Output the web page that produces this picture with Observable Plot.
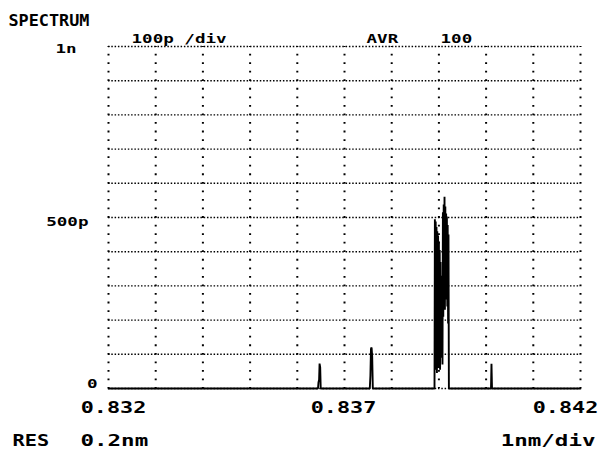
<!DOCTYPE html>
<html><head><meta charset="utf-8">
<script src="https://cdn.jsdelivr.net/npm/d3@7"></script>
<script src="https://cdn.jsdelivr.net/npm/@observablehq/plot@0.6"></script>
<style>body{margin:0;background:#fff;} svg{display:block;}</style>
</head><body><div id="chart"></div>
<script>
// Optical spectrum trace: wavelength (µm) and power (pW)
const wavelength = [
  0.832000,
  0.836439, 0.836449, 0.836462, 0.836472, 0.836485, 0.836496,
  0.837536, 0.837549, 0.837561, 0.837574, 0.837587, 0.837600,
  0.838907, 0.838915, 0.838924, 0.838932, 0.838941, 0.838949, 0.838958, 0.838966,
  0.838975, 0.838983, 0.838992, 0.839000, 0.839008, 0.839017, 0.839025, 0.839034,
  0.839042, 0.839051, 0.839059, 0.839068, 0.839076, 0.839085, 0.839093, 0.839102,
  0.839110, 0.839119, 0.839127, 0.839136, 0.839144, 0.839153, 0.839161, 0.839169,
  0.839178, 0.839186, 0.839195, 0.839203, 0.839212,
  0.840104, 0.840114, 0.840125,
  0.842000
];
const power = [
  0,
  0, 18, 26, 73, 62, 0,
  0, 38, 116, 120, 92, 0,
  0, 495, 55, 488, 70, 472, 45, 460,
  85, 447, 60, 430, 100, 405, 55, 370,
  140, 216, 90, 330, 70, 515, 210, 538,
  240, 561, 230, 532, 260, 512, 290, 503,
  240, 478, 190, 450, 0,
  0, 72, 0,
  0
];
const xGrid = [0.832, 0.833, 0.834, 0.835, 0.836, 0.837, 0.838, 0.839, 0.840, 0.841, 0.842];
const yGrid = [0, 100, 200, 300, 400, 500, 600, 700, 800, 900, 1000];
const xTicks = [0.832, 0.837, 0.842];
const xTickLabels = ["0.832", "0.837", "0.842"];
const yTicks = [1000, 500, 0];
const yTickLabels = ["1n", "500p", "0"];
const title = "SPECTRUM";
const scaleNote = "100p /div";
const avrLabel = "AVR";
const avrValue = "100";
const resLabel = "RES";
const resValue = "0.2nm";
const xUnitNote = "1nm/div";

const trace = wavelength.map((w, i) => ({w, p: power[i]}));
const xt = xTicks.map((v, i) => ({v, label: xTickLabels[i]}));
const yt = yTicks.map((v, i) => ({v, label: yTickLabels[i]}));

const F = "DejaVu Sans Mono";
const base = {fontFamily: F, fontWeight: "bold", fill: "black", lineAnchor: "bottom"};
const txt = (s, o) => Plot.text([s], {text: d => d, ...base, ...o});
const xLab = (i, dx) => Plot.text([xt[i]], {x: "v", text: "label", frameAnchor: "bottom", dy: 24, dx, fontSize: 15, ...base});
const yLab = (i, dx, dy) => Plot.text([yt[i]], {y: "v", text: "label", frameAnchor: "left", dx, dy, textAnchor: "end", fontSize: 13, ...base});

const chart = Plot.plot({
  width: 606, height: 452,
  marginLeft: 108, marginRight: 26, marginTop: 46, marginBottom: 64,
  x: {domain: [0.832, 0.842], axis: null},
  y: {domain: [0, 1000], axis: null},
  style: {background: "white", fontFamily: F},
  marks: [
    Plot.ruleY(yGrid, {stroke: "black", strokeWidth: 1.4, strokeDasharray: "1.5,1.8"}),
    Plot.ruleX(xGrid, {stroke: "black", strokeWidth: 2, strokeDasharray: "1.8,6.75", strokeDashoffset: 0.9}),
    Plot.line(trace, {x: "w", y: "p", stroke: "black", strokeWidth: 1.9, strokeLinejoin: "miter"}),
    xLab(0, 5), xLab(1, -1), xLab(2, -15),
    yLab(0, -32, 6), yLab(1, -20, 8), yLab(2, -11, -1),
    txt(title, {frameAnchor: "top-left", dx: -100, dy: -21, textAnchor: "start", fontSize: 15}),
    txt(scaleNote, {frameAnchor: "top-left", dx: 23, dy: -4, textAnchor: "start", fontSize: 13}),
    txt(avrLabel, {frameAnchor: "top-left", dx: 258, dy: -4, textAnchor: "start", fontSize: 13}),
    txt(avrValue, {frameAnchor: "top-left", dx: 332, dy: -4, textAnchor: "start", fontSize: 13}),
    txt(resLabel, {frameAnchor: "bottom-left", dx: -96, dy: 57, textAnchor: "start", fontSize: 15}),
    txt(resValue, {frameAnchor: "bottom-left", dx: -28, dy: 57, textAnchor: "start", fontSize: 15}),
    txt(xUnitNote, {frameAnchor: "bottom-right", dx: 15, dy: 57, textAnchor: "end", fontSize: 15})
  ]
});
document.getElementById("chart").appendChild(chart);

// widen glyphs to mimic the plotter's wide dot-matrix font
const widen = {"SPECTRUM": 1.12, "0.832": 1.45, "0.837": 1.45, "0.842": 1.45, "RES": 1.35, "0.2nm": 1.5, "1nm/div": 1.5};
chart.querySelectorAll("text").forEach(t => {
  const k = widen[t.textContent] ?? 1.35;
  const L = t.getComputedTextLength();
  t.setAttribute("textLength", (L * k).toFixed(1));
  t.setAttribute("lengthAdjust", "spacingAndGlyphs");
});
</script>
</body></html>
